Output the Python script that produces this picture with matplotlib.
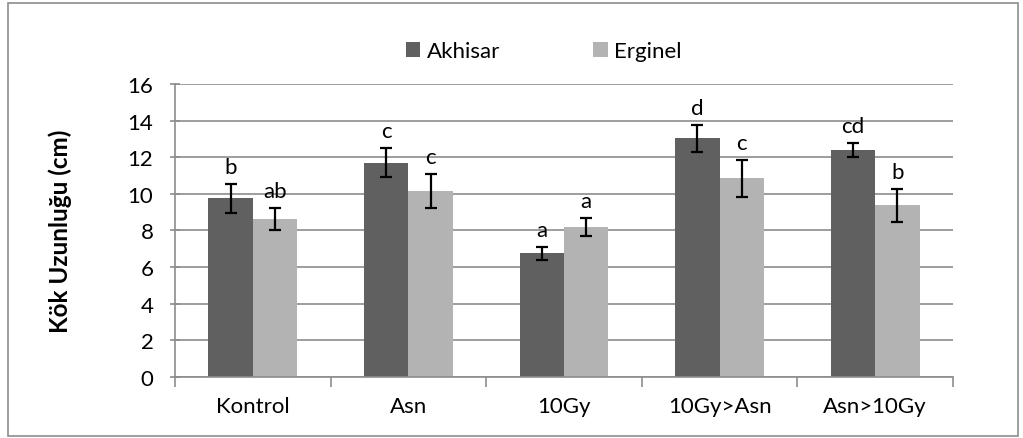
import matplotlib.pyplot as plt
import numpy as np
from matplotlib.patches import Rectangle

plt.rcParams['font.family'] = ['Lato', 'DejaVu Sans']

# root length per treatment, two cultivars
treatments = ['Kontrol', 'Asn', '10Gy', '10Gy>Asn', 'Asn>10Gy']
akhisar = [9.76, 11.7, 6.75, 13.03, 12.4]
akhisar_err = [0.8, 0.8, 0.35, 0.75, 0.37]
akhisar_sig = ['b', 'c', 'a', 'd', 'cd']
erginel = [8.64, 10.15, 8.2, 10.85, 9.38]
erginel_err = [0.6, 0.92, 0.48, 1.0, 0.9]
erginel_sig = ['ab', 'c', 'a', 'c', 'b']

dark = '#606060'
light = '#b3b3b3'
grid_col = '#8c8c8c'
fs = 16

fig = plt.figure(figsize=(10.23, 4.39), dpi=100)
ax = fig.add_axes([0.171, 0.139, 0.7606, 0.6675])

x = np.arange(len(treatments))
w = 0.285
err_kw = dict(ecolor='black', elinewidth=1.6, capsize=4.5, capthick=1.6)
ax.bar(x - w / 2, akhisar, w, color=dark, yerr=akhisar_err, error_kw=err_kw, label='Akhisar', zorder=2)
ax.bar(x + w / 2, erginel, w, color=light, yerr=erginel_err, error_kw=err_kw, label='Erginel', zorder=2)

for xi, v, e, s in zip(x - w / 2, akhisar, akhisar_err, akhisar_sig):
    ax.annotate(s, (xi, v + e), xytext=(0, 5), textcoords='offset points',
                ha='center', va='bottom', fontsize=fs)
for xi, v, e, s in zip(x + w / 2, erginel, erginel_err, erginel_sig):
    ax.annotate(s, (xi, v + e), xytext=(0, 5), textcoords='offset points',
                ha='center', va='bottom', fontsize=fs)

ax.set_xlim(-0.5, len(treatments) - 0.5)
ax.set_ylim(0, 16)
ax.set_yticks(range(0, 17, 2))
ax.yaxis.grid(True, color=grid_col, linewidth=1.2, zorder=0)
ax.set_axisbelow(True)

ax.set_xticks(x)
ax.set_xticklabels(treatments, fontsize=fs)
ax.tick_params(axis='x', length=0, pad=14)
ax.set_xticks(np.arange(-0.5, len(treatments)), minor=True)
ax.tick_params(axis='x', which='minor', length=7, color=grid_col, width=1.2)
ax.tick_params(axis='y', labelsize=fs, length=7, direction='inout', color=grid_col, width=1.2, pad=12)

for side in ['top', 'right']:
    ax.spines[side].set_visible(False)
for side in ['left', 'bottom']:
    ax.spines[side].set_color(grid_col)
    ax.spines[side].set_linewidth(1.2)

ax.set_ylabel('Kök Uzunluğu (cm)', fontsize=17.5, fontweight='bold', labelpad=40)

ax.legend(loc='lower center', bbox_to_anchor=(0.474, 1.01), ncol=2, frameon=False,
          fontsize=fs, handlelength=0.65, handleheight=0.65, handletextpad=0.3,
          columnspacing=4.2)

# outer chart frame
fig.patches.append(Rectangle((0.008, 0.005), 0.987, 0.985, transform=fig.transFigure,
                             fill=False, edgecolor='#8c8c8c', linewidth=1.2))

fig.savefig('out.png', dpi=100)
